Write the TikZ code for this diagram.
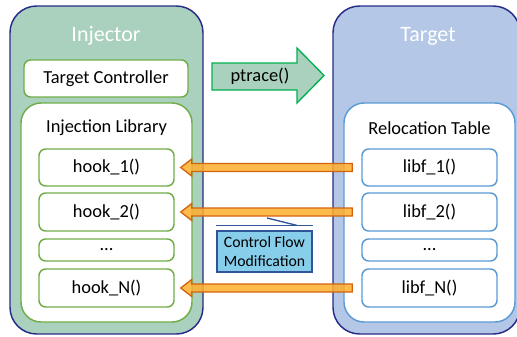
\documentclass[tikz,border=0pt]{standalone}
\usepackage{fontspec}
\setmainfont{Carlito}
\usetikzlibrary{calc}

\definecolor{injfill}{RGB}{169,209,189}
\definecolor{tgtfill}{RGB}{180,199,231}
\definecolor{navy}{RGB}{38,44,135}
\definecolor{libgreen}{RGB}{112,173,71}
\definecolor{libblue}{RGB}{91,155,213}
\definecolor{ptgreen}{RGB}{0,176,80}
\definecolor{flowfill}{RGB}{255,174,45}
\definecolor{flowdraw}{RGB}{210,100,15}
\definecolor{cfmfill}{RGB}{135,206,235}
\definecolor{cfmdraw}{RGB}{47,85,151}

\tikzset{
  outerbox/.style={draw=navy, line width=1.1pt, rounded corners=20pt},
  innerbox/.style={fill=white, line width=1.1pt, rounded corners=15pt},
  boxfont/.style={font=\fontsize{13.8}{16}\selectfont},
  funcbox/.style={draw=#1, fill=white, line width=1.1pt, rounded corners=5pt,
    minimum width=101.25pt, boxfont},
  title/.style={text=white, font=\fontsize{16.5}{19}\selectfont},
  flow/.style={draw=flowdraw, fill=flowfill, fill opacity=0.85, line width=1pt},
}

% three dots for the elided entries
\newcommand{\elided}{...}

% block arrow from the table entry back to the hook
\newcommand{\flowarrow}[2]{%
  \draw[flow] ($(#1.west)+(-9,-4)$) -- ($(#2.east)+(17,-4)$) -- ($(#2.east)+(17,-8.5)$)
    -- ($(#2.east)+(6,0)$) -- ($(#2.east)+(17,8.5)$) -- ($(#2.east)+(17,4)$)
    -- ($(#1.west)+(-9,4)$) -- cycle ;}

\begin{document}
\begin{tikzpicture}[x=0.75pt,y=0.75pt,yscale=-1,xscale=1]
\useasboundingbox (0,0) rectangle (517,336);

%Shape: Rounded Rect [id:injector]
\draw[outerbox, fill=injfill] (10,6) rectangle (203,334) ;
%Shape: Rounded Rect [id:target]
\draw[outerbox, fill=tgtfill] (333,6) rectangle (520,334) ;

% Text Node
\node[title] (injtitle) at (106,36) {Injector};
% Text Node
\node[title] (tgttitle) at (428,36) {Target};

%Shape: Rounded Rect [id:controller]
\node[funcbox=libgreen, minimum width=123pt, minimum height=27.75pt] (ctrl) at (106,78.5) {Target Controller};

%Shape: Rounded Rect [id:library]
\draw[innerbox, draw=libgreen] (21,103) rectangle (192,322) ;
%Shape: Rounded Rect [id:reloc]
\draw[innerbox, draw=libblue] (344,103) rectangle (515,322) ;

% Text Node
\node[boxfont] (libtitle) at (106.5,128) {Injection Library};
% Text Node
\node[boxfont] (reltitle) at (429.5,128) {Relocation Table};

% hooks and table entries
\foreach \name/\txt/\y/\h in {1/hook\_1()/167.5/27.75, 2/hook\_2()/212/28.5, d/\elided/250/16.5, N/hook\_N()/288/28.5}
  \node[funcbox=libgreen, minimum height=\h pt] (hook\name) at (106.5,\y) {\txt};
\foreach \name/\txt/\y/\h in {1/libf\_1()/167.5/27.75, 2/libf\_2()/212/28.5, d/\elided/250/16.5, N/libf\_N()/288/28.5}
  \node[funcbox=libblue, minimum height=\h pt] (libf\name) at (429.5,\y) {\txt};

%Shape: Right Arrow [id:ptrace]
\draw[draw=ptgreen, fill=injfill, line width=1pt] (212,63) -- (297,63) -- (297,48) -- (324,75.5)
  -- (297,103) -- (297,90) -- (212,90) -- cycle ;
% Text Node
\node[boxfont] (ptrace) at (260,76) {ptrace()};

% redirected calls
\flowarrow{libf1}{hook1}
\flowarrow{libf2}{hook2}
\flowarrow{libfN}{hookN}

%Shape: Callout [id:cfm]
\node[draw=cfmdraw, fill=cfmfill, line width=1pt, minimum width=71.25pt, minimum height=30.75pt,
  align=left, inner sep=2pt, font=\fontsize{11.8}{14.2}\selectfont] (cfm) at (264.5,251.5) {Control Flow\\Modification};
\coordinate (cfmbarL) at ($(cfm.north west)+(0,-5)$);
\coordinate (cfmbarR) at ($(cfm.north east)+(0,-5)$);
\coordinate (cfmbend) at ($(cfm.north east)+(-16,-5)$);
\coordinate (cfmtip) at ($(hook2.east)!0.5!(libf2.west)+(-1,6)$);
\draw[draw=cfmdraw, line width=1pt] (cfmbarL) -- (cfmbarR) ;
\draw[draw=cfmdraw, line width=1pt] (cfmbend) -- (cfmtip) ;

\end{tikzpicture}
\end{document}
